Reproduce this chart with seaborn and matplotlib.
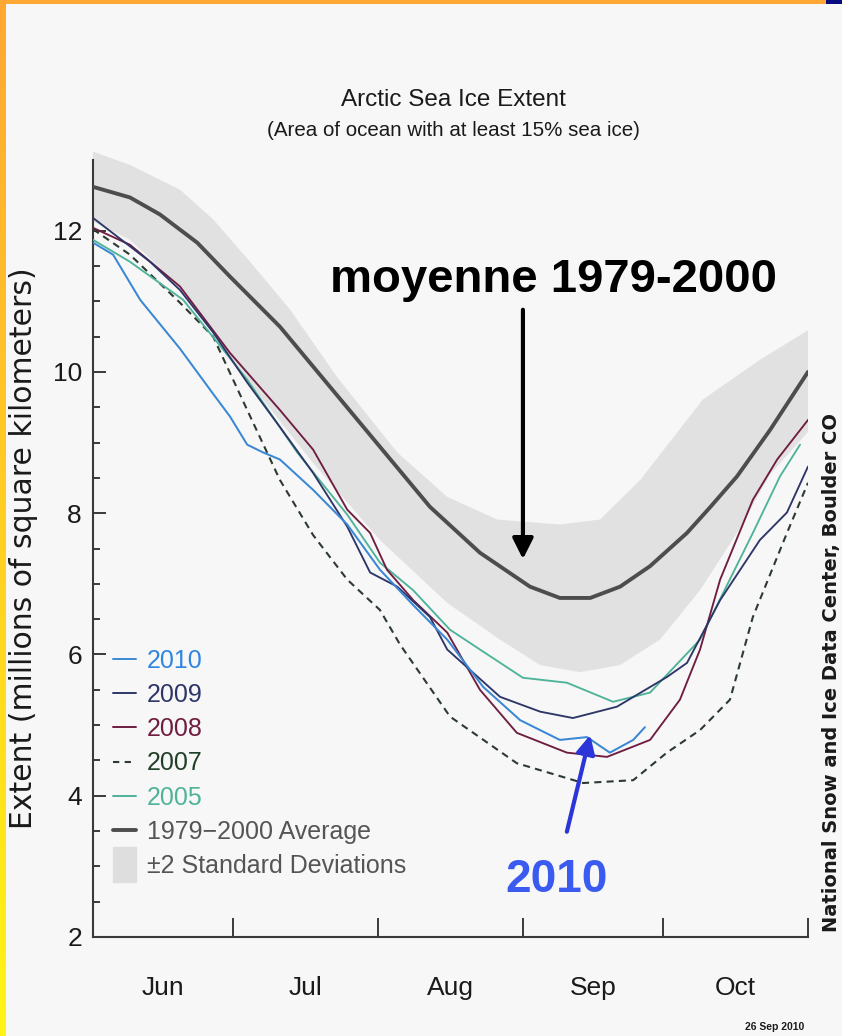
import matplotlib.pyplot as plt
import seaborn as sns
import numpy as np
from matplotlib.lines import Line2D
from matplotlib.patches import Patch, Rectangle
from matplotlib.legend_handler import HandlerPatch

# days counted from 1 June, extent in millions of km2
avg_days = [0, 7.9, 14.3, 22.3, 29.3, 40.0, 50.7, 61.4, 72.1, 82.8, 93.5, 99.9, 106.4,
            112.8, 119.2, 127.1, 132.0, 137.8, 144.9, 153]
avg_ext = [12.62, 12.47, 12.23, 11.83, 11.35, 10.64, 9.79, 8.94, 8.09, 7.44, 6.96, 6.80, 6.80,
           6.96, 7.25, 7.72, 8.08, 8.52, 9.18, 10.00]

hi_days = [0, 7.9, 18.6, 25.7, 33.6, 42.2, 52.2, 65.1, 75.8, 86.5, 99.9, 108.5, 117.1, 130.5, 142.7, 153]
hi_ext = [13.12, 12.93, 12.58, 12.16, 11.56, 10.88, 9.93, 8.86, 8.23, 7.91, 7.84, 7.91, 8.47, 9.61, 10.17, 10.59]
lo_days = [0, 7.9, 18.6, 33.0, 47.1, 61.4, 75.8, 87.1, 95.7, 104.2, 112.8, 121.3, 129.9, 137.8, 144.9, 153]
lo_ext = [12.13, 11.87, 11.21, 9.89, 8.71, 7.62, 6.73, 6.21, 5.85, 5.75, 5.85, 6.21, 6.91, 7.72, 8.55, 9.15]

days_2010 = [0, 4.3, 10.1, 18.6, 25.7, 29.3, 33.0, 36.4, 40.0, 47.1, 54.4, 61.4, 68.5, 75.8, 83.5,
             91.4, 99.9, 105.7, 110.6, 115.6, 118.1]
ext_2010 = [11.83, 11.66, 11.02, 10.33, 9.69, 9.37, 8.97, 8.86, 8.76, 8.33, 7.84, 7.20, 6.70, 6.21, 5.54,
            5.07, 4.79, 4.83, 4.61, 4.79, 4.97]

days_2009 = [0, 12.2, 18.6, 25.7, 33.0, 40.0, 47.1, 54.4, 59.3, 65.1, 72.1, 75.8, 87.1, 95.7,
             102.7, 112.1, 122.8, 127.1, 134.2, 142.7, 148.5, 153]
ext_2009 = [12.18, 11.56, 11.16, 10.56, 9.85, 9.22, 8.57, 7.81, 7.16, 6.96, 6.53, 6.07, 5.40, 5.19,
            5.10, 5.26, 5.68, 5.88, 6.77, 7.62, 8.01, 8.66]

days_2008 = [0, 7.9, 18.6, 29.3, 40.0, 47.1, 54.4, 59.3, 62.9, 68.5, 75.8, 82.8, 90.7, 101.4,
             110.0, 119.2, 125.6, 129.9, 134.2, 141.2, 146.4, 153]
ext_2008 = [12.04, 11.80, 11.21, 10.27, 9.46, 8.90, 8.05, 7.72, 7.20, 6.77, 6.31, 5.50, 4.89, 4.61,
            4.55, 4.79, 5.36, 6.07, 7.06, 8.19, 8.76, 9.32]

days_2007 = [0, 7.9, 18.6, 25.7, 33.0, 40.0, 47.1, 54.4, 61.4, 65.7, 76.4, 90.7, 104.9, 115.6,
             122.8, 129.9, 136.3, 141.2, 148.5, 153]
ext_2007 = [12.02, 11.66, 10.98, 10.50, 9.46, 8.47, 7.69, 7.06, 6.63, 6.14, 5.12, 4.46, 4.18, 4.22,
            4.61, 4.93, 5.36, 6.53, 7.72, 8.43]

days_2005 = [0, 7.9, 19.3, 33.0, 43.7, 54.4, 61.4, 68.5, 76.4, 82.8, 92.0, 101.4, 111.3, 119.2,
             129.9, 141.2, 147.0, 151.3]
ext_2005 = [11.87, 11.56, 11.02, 9.89, 8.86, 7.98, 7.30, 6.91, 6.35, 6.07, 5.67, 5.60, 5.33, 5.46,
            6.21, 7.72, 8.52, 8.97]

month_edges = [30, 61, 92, 122, 153]
month_mids = [15, 45.5, 76.5, 107, 137.5]
month_names = ["Jun", "Jul", "Aug", "Sep", "Oct"]

legend_labels = ["2010", "2009", "2008", "2007", "2005", "1979\u22122000 Average", "\u00b12 Standard Deviations"]

c2010 = "#3a88d4"
c2009 = "#2e3668"
c2008 = "#6f1d40"
c2007 = "#2c3a30"
c2005 = "#4fb39a"
cavg = "#4d4d4d"
cband = "#e1e1e1"
bg = "#f7f7f7"

sns.set_theme(style="ticks")
plt.rcParams["font.family"] = ["Liberation Sans", "DejaVu Sans"]

fig = plt.figure(figsize=(8.42, 10.36), dpi=100, facecolor=bg)
ax = fig.add_axes([93 / 842, 99 / 1036, 715 / 842, 777 / 1036])
ax.set_facecolor(bg)

# +-2 std band
ax.fill(np.concatenate([hi_days, lo_days[::-1]]), np.concatenate([hi_ext, lo_ext[::-1]]),
        color=cband, lw=0, clip_on=False, zorder=1)

sns.lineplot(x=avg_days, y=avg_ext, ax=ax, color=cavg, linewidth=2.8, sort=False, estimator=None, zorder=3)
sns.lineplot(x=days_2007, y=ext_2007, ax=ax, color=c2007, linewidth=1.5, sort=False, estimator=None,
             linestyle=(0, (3.4, 2.5)), zorder=4)
sns.lineplot(x=days_2005, y=ext_2005, ax=ax, color=c2005, linewidth=1.35, sort=False, estimator=None, zorder=4)
sns.lineplot(x=days_2008, y=ext_2008, ax=ax, color=c2008, linewidth=1.35, sort=False, estimator=None, zorder=4)
sns.lineplot(x=days_2009, y=ext_2009, ax=ax, color=c2009, linewidth=1.35, sort=False, estimator=None, zorder=4)
sns.lineplot(x=days_2010, y=ext_2010, ax=ax, color=c2010, linewidth=1.45, sort=False, estimator=None, zorder=5)

ax.set_xlim(0, 153)
ax.set_ylim(2, 13)
sns.despine(ax=ax)
for s in ["left", "bottom"]:
    ax.spines[s].set_color("#3a3a3a")
    ax.spines[s].set_linewidth(1.5)

ax.set_xticks(month_edges)
ax.set_xticklabels([])
ax.set_xticks(month_mids, minor=True)
ax.set_xticklabels(month_names, minor=True)
ax.tick_params(axis="x", which="major", direction="in", length=13.5, width=1.4, color="#3a3a3a")
ax.tick_params(axis="x", which="minor", length=0, pad=28, labelsize=19, labelcolor="#1a1a1a")

ax.set_yticks([2, 4, 6, 8, 10, 12])
ax.set_yticks(np.arange(2.5, 13.01, 0.5), minor=True)
ax.tick_params(axis="y", which="major", direction="in", length=9.5, width=1.4, color="#3a3a3a",
               pad=8, labelsize=19, labelcolor="#1a1a1a")
ax.tick_params(axis="y", which="minor", direction="in", length=5, width=1.4, color="#3a3a3a")

ax.set_ylabel("Extent (millions of square kilometers)", family=["DejaVu Sans"], fontsize=21.5, color="#1a1a1a")
ax.yaxis.set_label_coords(-0.077, 0.5)
ax.set_xlabel("")


def tall_patch(legend, orig_handle, xdescent, ydescent, width, height, fontsize):
    return Rectangle((-xdescent, -ydescent - 0.5 * height), width, 2.0 * height)


handles = [
    Line2D([], [], color=c2010, lw=1.4),
    Line2D([], [], color=c2009, lw=1.4),
    Line2D([], [], color=c2008, lw=1.4),
    Line2D([], [], color=c2007, lw=1.5, linestyle=(0, (3.0, 2.6))),
    Line2D([], [], color=c2005, lw=1.4),
    Line2D([], [], color=cavg, lw=2.8),
    Patch(color="#dedede"),
]
leg = ax.legend(handles, legend_labels, loc="upper left", bbox_to_anchor=(0.028, 0.371),
                frameon=False, fontsize=18, borderpad=0, borderaxespad=0, handlelength=0.9,
                handletextpad=0.45, labelspacing=0.41,
                labelcolor=["#2f86e0", c2009, c2008, "#1f3f27", c2005, "#555555", "#555555"],
                handler_map={Patch: HandlerPatch(patch_func=tall_patch)})

# annotations
fig.text(554 / 842, 1 - 292 / 1036, "moyenne 1979-2000", ha="center", va="baseline",
         fontsize=34, fontweight="bold", color="black")
ax.annotate("", xy=(92.0, 7.35), xytext=(92.0, 10.88),
            arrowprops=dict(arrowstyle="-|>,head_length=0.5,head_width=0.25", lw=3, color="black",
                            mutation_scale=25, shrinkA=0, shrinkB=0), zorder=6)
fig.text(557 / 842, 1 - 892 / 1036, "2010", ha="center", va="baseline",
         fontsize=33, fontweight="bold", color="#3b5bf0")
ax.annotate("", xy=(106.4, 4.86), xytext=(101.4, 3.49),
            arrowprops=dict(arrowstyle="-|>,head_length=0.5,head_width=0.25", lw=3, color="#2b35d8",
                            mutation_scale=22, shrinkA=0, shrinkB=0), zorder=6)

# titles and credits
fig.text(453 / 842, 1 - 100 / 1036, "Arctic Sea Ice Extent", ha="center", va="center",
         fontsize=17.5, color="#1a1a1a")
fig.text(453 / 842, 1 - 131 / 1036, "(Area of ocean with at least 15% sea ice)", ha="center", va="center",
         fontsize=14.8, color="#1a1a1a")
fig.text(832 / 842, 1 - 672 / 1036, "National Snow and Ice Data Center, Boulder CO", rotation=90,
         ha="center", va="center", fontsize=14, fontweight="bold", family=["DejaVu Sans"], color="#1a1a1a")
fig.text(775 / 842, 1 - 1027 / 1036, "26 Sep 2010", ha="center", va="center",
         fontsize=7.5, fontweight="bold", color="#1a1a1a")

# page border (orange top, orange-to-yellow left strip)
fig.add_artist(Rectangle((0, 1 - 4 / 1036), 1, 4 / 1036, transform=fig.transFigure,
                         color="#ffa833", lw=0))
fig.add_artist(Rectangle((826 / 842, 1 - 4 / 1036), 16 / 842, 4 / 1036, transform=fig.transFigure,
                         color="#0a0a80", lw=0))
strip = fig.add_axes([0, 0, 6 / 842, 1 - 4 / 1036])
grad = np.linspace(0, 1, 256).reshape(-1, 1)
cols = np.array([255, 168, 51]) * (1 - grad)[..., None] + np.array([255, 245, 20]) * grad[..., None]
strip.imshow(cols.astype(np.uint8), aspect="auto", origin="upper")
strip.set_axis_off()

fig.savefig("out.png", dpi=100, facecolor=bg)
